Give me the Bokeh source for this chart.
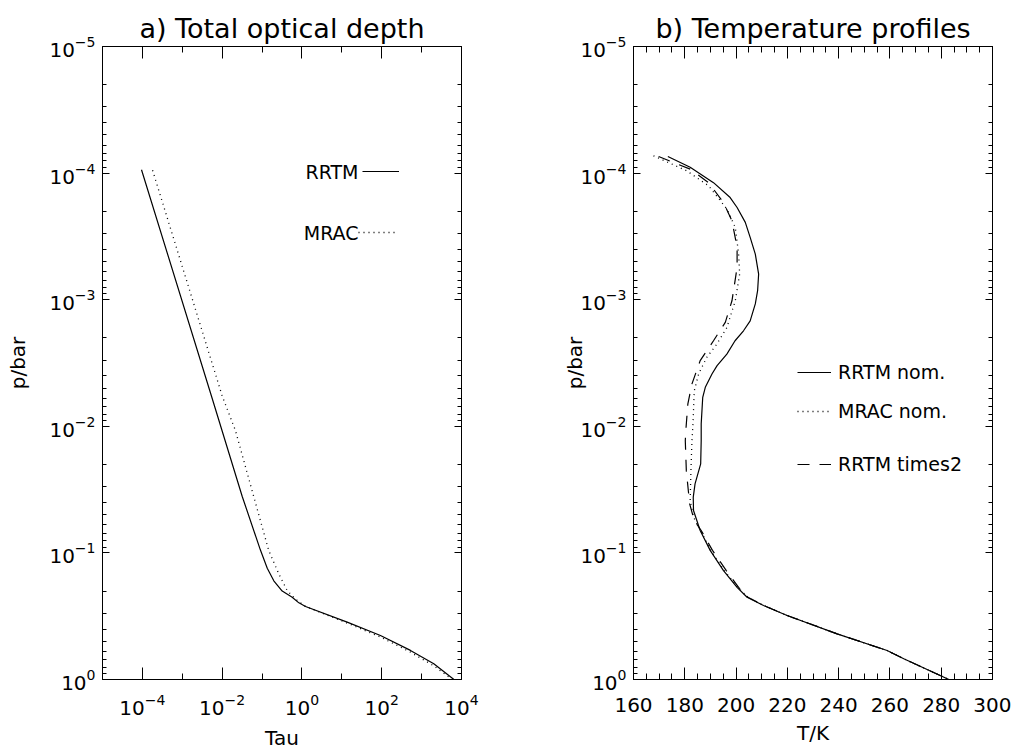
from bokeh.plotting import figure
from bokeh.models import (Range1d, LogAxis, LinearAxis, FixedTicker,
                          CustomJSTickFormatter, Legend, LegendItem, Label)
from bokeh.layouts import row
from bokeh.embed import file_html
from bokeh.resources import INLINE

FONT = "DejaVu Sans"

# ---------------- Panel a) Total optical depth ----------------
rrtm_tau = [9.5e-5, 5.6e-3, 0.032, 0.091, 0.135, 0.197, 0.32, 0.569, 0.838, 1.23,
            13.6, 93.0, 525.0, 2020.0, 6460.0]
rrtm_tau_p = [9.4e-5, 6.0e-3, 0.036, 0.095, 0.132, 0.166, 0.20, 0.224, 0.248, 0.265,
              0.352, 0.449, 0.589, 0.750, 1.0]

mrac_tau = [1.8e-4, 1.0e-2, 0.0215, 0.062, 0.147, 0.262, 0.426, 0.689, 1.23,
            13.6, 93.0, 525.0, 2020.0, 5900.0]
mrac_tau_p = [9.5e-5, 5.75e-3, 0.0108, 0.036, 0.0957, 0.146, 0.198, 0.232, 0.265,
              0.358, 0.462, 0.608, 0.780, 1.0]

# ---------------- Panel b) Temperature profiles ----------------
rrtm_T = [173.4, 182.1, 191.2, 197.7, 200.4, 203.6, 205.5, 207.5, 208.8, 208.4,
          207.5, 205.5, 202.9, 199.6, 196.4, 192.6, 190.6, 188.0, 187.0, 186.4,
          186.4, 186.2, 184.0, 183.3, 183.4, 186.0, 189.9, 195.1, 200.4, 204.3,
          210.7, 219.9, 239.4, 258.9, 265.4, 283.0]
rrtm_T_p = [7.4e-5, 9.0e-5, 1.19e-4, 1.56e-4, 1.87e-4, 2.45e-4, 3.22e-4, 4.36e-4, 6.27e-4, 8.49e-4,
            1.08e-3, 1.47e-3, 1.76e-3, 2.11e-3, 2.69e-3, 3.32e-3, 3.86e-3, 4.92e-3, 5.90e-3, 9.57e-3,
            0.0130, 0.0198, 0.0285, 0.0363, 0.0462, 0.0665, 0.0955, 0.138, 0.187, 0.224,
            0.260, 0.312, 0.436, 0.590, 0.686, 1.0]

mrac_T = [167.8, 180.8, 189.3, 196.4, 199.7, 201.0, 201.4, 199.7, 196.4, 192.5,
          188.6, 185.4, 183.7, 183.2, 182.8, 182.4, 182.1, 183.4, 186.2, 190.1,
          195.4, 200.7, 204.5, 210.8, 219.9, 239.4, 258.9, 265.4, 283.0]
mrac_T_p = [7.3e-5, 9.6e-5, 1.26e-4, 1.92e-4, 2.69e-4, 4.37e-4, 6.27e-4, 1.02e-3, 1.66e-3, 2.24e-3,
            2.85e-3, 3.86e-3, 5.25e-3, 9.57e-3, 0.0130, 0.0224, 0.0386, 0.0522, 0.0665, 0.0955,
            0.138, 0.187, 0.224, 0.260, 0.312, 0.436, 0.590, 0.686, 1.0]

times2_T = [169.8, 182.1, 189.3, 195.1, 198.4, 200.4, 200.4, 198.4, 195.8, 191.2,
            186.0, 182.8, 181.2, 180.4, 180.2, 180.6, 181.9, 183.7, 186.4, 190.8,
            196.2, 201.0, 204.6, 210.8, 219.9, 239.4, 258.9, 265.4, 283.0]
times2_T_p = [7.4e-5, 9.3e-5, 1.19e-4, 1.71e-4, 2.38e-4, 3.86e-4, 5.56e-4, 1.02e-3, 1.51e-3, 2.11e-3,
              3.03e-3, 4.62e-3, 6.65e-3, 0.0108, 0.0130, 0.0224, 0.0410, 0.0555, 0.0665, 0.0955,
              0.138, 0.187, 0.224, 0.260, 0.312, 0.436, 0.590, 0.686, 1.0]

# ---------------- ticks ----------------
tau_major = [1e-4, 1e-2, 1e0, 1e2, 1e4]
tau_minor = [1e-3, 1e-1, 1e1, 1e3]
p_major = [1e-5, 1e-4, 1e-3, 1e-2, 1e-1, 1e0]
p_minor = [m * 10.0 ** e for e in range(-5, 0) for m in range(2, 10)]
T_major = list(range(160, 301, 20))
T_minor = list(range(160, 301, 5))

LABEL_SIZE = "20px"


def style_axis(ax, tick_in, minor_in, show_labels=True, standoff=7):
    ax.axis_line_color = "black"
    ax.axis_line_width = 1
    ax.major_tick_line_color = "black"
    ax.minor_tick_line_color = "black"
    ax.major_tick_in = tick_in
    ax.major_tick_out = 0
    ax.minor_tick_in = minor_in
    ax.minor_tick_out = 0
    ax.major_label_text_font = FONT
    ax.major_label_text_font_size = LABEL_SIZE
    ax.major_label_text_color = "black"
    ax.major_label_standoff = standoff
    ax.axis_label_text_font = FONT
    ax.axis_label_text_font_size = "20px"
    ax.axis_label_text_font_style = "normal"
    ax.axis_label_text_color = "black"
    if not show_labels:
        ax.formatter = CustomJSTickFormatter(code="return ''")
        ax.major_label_standoff = 0
        ax.major_label_text_font_size = "0px"


def make_fig(title, x_type, x_range, min_left, min_right):
    p = figure(title=title, x_axis_type=x_type, y_axis_type="log",
               x_range=x_range, y_range=Range1d(1.0, 1e-5),
               frame_width=359, frame_height=633,
               min_border_left=min_left, min_border_right=min_right,
               min_border_top=46, min_border_bottom=62,
               output_backend="svg", toolbar_location=None,
               background_fill_color="white", border_fill_color="white")
    p.xgrid.visible = False
    p.ygrid.visible = False
    p.outline_line_color = "black"
    p.title.align = "center"
    p.title.text_font = FONT
    p.title.text_font_size = "27px"
    p.title.text_font_style = "normal"
    p.title.text_color = "black"
    p.title.standoff = 6
    return p


def legend_box(p, label, renderer, x, y, glyph_w):
    leg = Legend(items=[LegendItem(label=label, renderers=[renderer])],
                 location=(x, y), border_line_color=None,
                 background_fill_alpha=0, padding=0, margin=0, spacing=0,
                 glyph_width=glyph_w, glyph_height=16, label_height=16,
                 label_standoff=7,
                 label_text_font=FONT, label_text_font_size="19px",
                 label_text_color="black", label_text_baseline="alphabetic")
    p.add_layout(leg)


# ================= Panel a =================
pa = make_fig("a) Total optical depth", "log", Range1d(1e-5, 1e4), 102, 47)
ra = pa.line(rrtm_tau, rrtm_tau_p, line_color="black", line_width=1.2)
ma = pa.line(mrac_tau, mrac_tau_p, line_color="black", line_width=1.3, line_dash="1 4")

pa.xaxis[0].ticker = FixedTicker(ticks=tau_major, minor_ticks=tau_minor)
pa.xaxis[0].axis_label = "Tau"
pa.xaxis[0].axis_label_standoff = 8
style_axis(pa.xaxis[0], 12, 6, standoff=14)
pa.yaxis[0].ticker = FixedTicker(ticks=p_major, minor_ticks=p_minor)
pa.yaxis[0].axis_label = "p/bar"
pa.yaxis[0].axis_label_standoff = 16
style_axis(pa.yaxis[0], 7, 4)

top_a = LogAxis(ticker=FixedTicker(ticks=tau_major, minor_ticks=tau_minor))
style_axis(top_a, 12, 6, show_labels=False)
pa.add_layout(top_a, "above")
right_a = LogAxis(ticker=FixedTicker(ticks=p_major, minor_ticks=p_minor))
style_axis(right_a, 7, 4, show_labels=False)
pa.add_layout(right_a, "right")

# legend of panel a: text on the left, line sample on the right
legend_box(pa, " ", ra, 260, 500, 37)
legend_box(pa, " ", ma, 256, 439, 40)
for txt, ly in (("RRTM", 508), ("MRAC", 447)):
    pa.add_layout(Label(x=256, y=ly, x_units="screen", y_units="screen", text=txt,
                        text_align="right", text_baseline="alphabetic",
                        text_font=FONT, text_font_size="19px", text_color="black"))

# ================= Panel b =================
pb = make_fig("b) Temperature profiles", "linear", Range1d(160, 300), 125, 19)
rb = pb.line(rrtm_T, rrtm_T_p, line_color="black", line_width=1.2)
mb = pb.line(mrac_T, mrac_T_p, line_color="black", line_width=1.3, line_dash="1 4")
tb = pb.line(times2_T, times2_T_p, line_color="black", line_width=1.2, line_dash="12 10")

pb.xaxis[0].ticker = FixedTicker(ticks=T_major, minor_ticks=T_minor)
pb.xaxis[0].axis_label = "T/K"
pb.xaxis[0].axis_label_standoff = 6
style_axis(pb.xaxis[0], 12, 6, standoff=18)
pb.yaxis[0].ticker = FixedTicker(ticks=p_major, minor_ticks=p_minor)
pb.yaxis[0].axis_label = "p/bar"
pb.yaxis[0].axis_label_standoff = -10
style_axis(pb.yaxis[0], 7, 4)

top_b = LinearAxis(ticker=FixedTicker(ticks=T_major, minor_ticks=T_minor))
style_axis(top_b, 12, 6, show_labels=False)
pb.add_layout(top_b, "above")
right_b = LogAxis(ticker=FixedTicker(ticks=p_major, minor_ticks=p_minor))
style_axis(right_b, 7, 4, show_labels=False)
pb.add_layout(right_b, "right")

legend_box(pb, "RRTM nom.", rb, 164, 296, 34)
legend_box(pb, "MRAC nom.", mb, 164, 257, 34)
legend_box(pb, "RRTM times2", tb, 164, 204, 34)

layout = row(pa, pb)
open("out.html", "w").write(file_html(layout, INLINE))
